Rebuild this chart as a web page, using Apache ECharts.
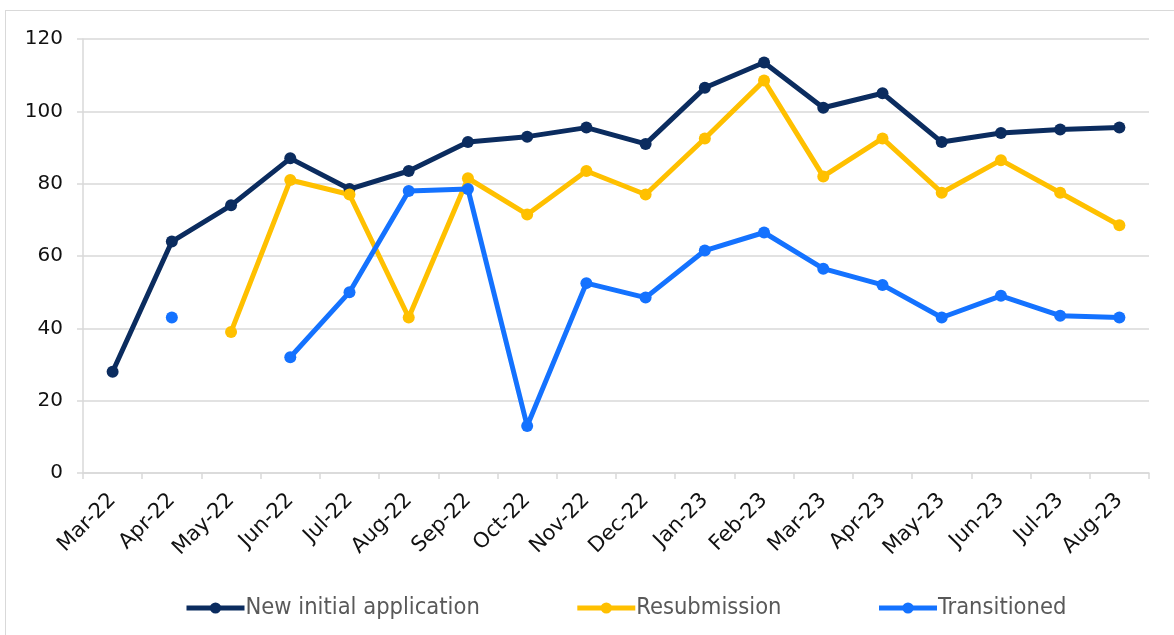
<!DOCTYPE html>
<html>
<head>
<meta charset="utf-8">
<script src="https://cdn.jsdelivr.net/npm/echarts@6/dist/echarts.min.js"></script>
<style>
  html, body { margin: 0; padding: 0; background: #fff; }
  .frame {
    position: absolute;
    left: 5px;
    top: 10px;
    width: 1180px;
    height: 640px;
    border: 1px solid #d9d9d9;
    box-sizing: border-box;
  }
  #chart { position: absolute; left: 0; top: 0; width: 1174px; height: 635px; }
</style>
</head>
<body>
<div class="frame"></div>
<div id="chart"></div>
<script>
const months = ['Mar-22', 'Apr-22', 'May-22', 'Jun-22', 'Jul-22', 'Aug-22', 'Sep-22', 'Oct-22', 'Nov-22',
  'Dec-22', 'Jan-23', 'Feb-23', 'Mar-23', 'Apr-23', 'May-23', 'Jun-23', 'Jul-23', 'Aug-23']

const newInitial = [28, 64, 74, 87, 78.5, 83.5, 91.5, 93, 95.5, 91, 106.5, 113.5, 101, 105, 91.5, 94, 95, 95.5]
const resubmission = [null, null, 39, 81, 77, 43, 81.5, 71.5, 83.5, 77, 92.5, 108.5, 82, 92.5, 77.5, 86.5, 77.5, 68.5]
const transitioned = [null, 43, null, 32, 50, 78, 78.5, 13, 52.5, 48.5, 61.5, 66.5, 56.5, 52, 43, 49, 43.5, 43]

const chart = echarts.init(document.getElementById('chart'))

const makeSeries = (name, data, color) => ({
  name,
  type: 'line',
  data,
  color,
  symbol: 'circle',
  symbolSize: 12,
  showAllSymbol: true,
  lineStyle: { color, width: 5 },
  itemStyle: { color },
  emphasis: { disabled: true },
  animation: false
})

chart.setOption({
  animation: false,
  grid: {
    left: 83,
    top: 39,
    width: 1066,
    height: 434,
    containLabel: false
  },
  legend: {
    bottom: 10,
    left: 179,
    itemWidth: 58,
    itemHeight: 14,
    itemGap: 95,
    lineStyle: { width: 5 },
    textStyle: {
      fontFamily: 'DejaVu Sans Condensed',
      fontSize: 23.5,
      color: '#595959',
      padding: [0, 0, 0, -4]
    },
    data: ['New initial application', 'Resubmission', 'Transitioned']
  },
  xAxis: {
    type: 'category',
    data: months,
    boundaryGap: true,
    axisLine: { lineStyle: { color: '#d9d9d9', width: 1.5 } },
    axisTick: { show: true, length: 6, lineStyle: { color: '#d9d9d9', width: 1.5 } },
    axisLabel: {
      rotate: 45,
      interval: 0,
      margin: 24,
      fontFamily: 'DejaVu Sans',
      fontSize: 21,
      color: '#111'
    }
  },
  yAxis: {
    type: 'value',
    min: 0,
    max: 120,
    interval: 20,
    axisLine: { show: true, lineStyle: { color: '#d9d9d9', width: 1.5 } },
    axisTick: { show: true, length: 6, lineStyle: { color: '#d9d9d9', width: 1.5 } },
    splitLine: { lineStyle: { color: '#d9d9d9', width: 1.5 } },
    axisLabel: {
      margin: 20,
      fontFamily: 'DejaVu Sans',
      fontSize: 20,
      color: '#111'
    }
  },
  series: [
    makeSeries('New initial application', newInitial, '#0b2c5f'),
    makeSeries('Resubmission', resubmission, '#ffc000'),
    makeSeries('Transitioned', transitioned, '#1472ff')
  ]
})
</script>
</body>
</html>
